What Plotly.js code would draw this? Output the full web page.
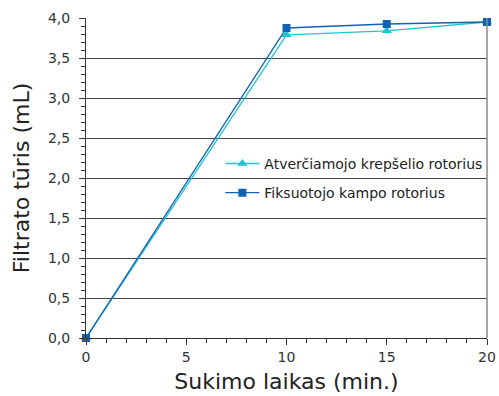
<!DOCTYPE html>
<html><head><meta charset="utf-8">
<script src="https://cdn.plot.ly/plotly-3.0.1.min.js"></script>
<style>body{margin:0;background:#fff}#c{width:499px;height:396px}</style>
</head><body><div id="c"></div>
<script>
const time = [0, 10, 15, 20];
const seriesA = [0, 3.79, 3.84, 3.95];
const seriesB = [0, 3.875, 3.925, 3.95];
const nameA = "Atverčiamojo krepšelio rotorius";
const nameB = "Fiksuotojo kampo rotorius";

const traces = [
  {x: time, y: seriesA, name: nameA, mode: "lines+markers", cliponaxis: false, legend: "legend",
   line: {color: "#22c3d3", width: 1.3},
   marker: {symbol: "triangle-up", size: 9, color: "#22c3d3"}},
  {x: time, y: seriesB, name: nameB, mode: "lines+markers", cliponaxis: false, legend: "legend2",
   line: {color: "#1063b3", width: 1.3},
   marker: {symbol: "square", size: 8, color: "#1063b3"}}
];
const font = "Verdana, 'DejaVu Sans', sans-serif";
const legFont = {size: 14, family: "Tahoma, 'DejaVu Sans', sans-serif", color: "#222"};
const legBase = {xanchor: "left", yanchor: "middle", bgcolor: "rgba(0,0,0,0)",
                 font: legFont, itemwidth: 34, borderwidth: 0};
const layout = {
  width: 499, height: 396,
  margin: {l: 86, r: 12, t: 18, b: 58, autoexpand: false},
  paper_bgcolor: "#fff", plot_bgcolor: "#fff",
  separators: ",.",
  font: {family: font, color: "#222"},
  showlegend: true,
  legend: Object.assign({x: 0.335, y: 0.544}, legBase),
  legend2: Object.assign({x: 0.335, y: 0.453}, legBase),
  xaxis: {range: [0, 20], dtick: 5, tick0: 0, showgrid: false, zeroline: false, automargin: false,
          showline: true, linecolor: "#333", linewidth: 1, mirror: false,
          ticks: "outside", ticklen: 6, tickcolor: "#333",
          minor: {dtick: 1, ticks: "outside", ticklen: 4, tickcolor: "#333", showgrid: false},
          tickfont: {size: 14, color: "#333"},
          title: {text: "Sukimo laikas (min.)", font: {size: 22, color: "#222"}, standoff: 9}},
  yaxis: {range: [0, 4], dtick: 0.5, tick0: 0, tickformat: ".1f", automargin: false,
          showgrid: true, gridcolor: "#444", gridwidth: 1, zeroline: false,
          showline: true, linecolor: "#333", linewidth: 1, mirror: false,
          ticks: "outside", ticklen: 6, tickcolor: "#333", ticklabelstandoff: 6,
          minor: {dtick: 0.1, ticks: "outside", ticklen: 4, tickcolor: "#333", showgrid: false},
          tickfont: {size: 14, color: "#333"},
          title: {text: "Filtrato tūris (mL)", font: {size: 22, color: "#222"}, standoff: 12}},
  shapes: [{type: "line", xref: "paper", yref: "paper", x0: 1, x1: 1, y0: 0, y1: 1,
            line: {color: "#888", width: 1.5}}]
};
Plotly.newPlot("c", traces, layout, {displayModeBar: false, staticPlot: true});
</script></body></html>
